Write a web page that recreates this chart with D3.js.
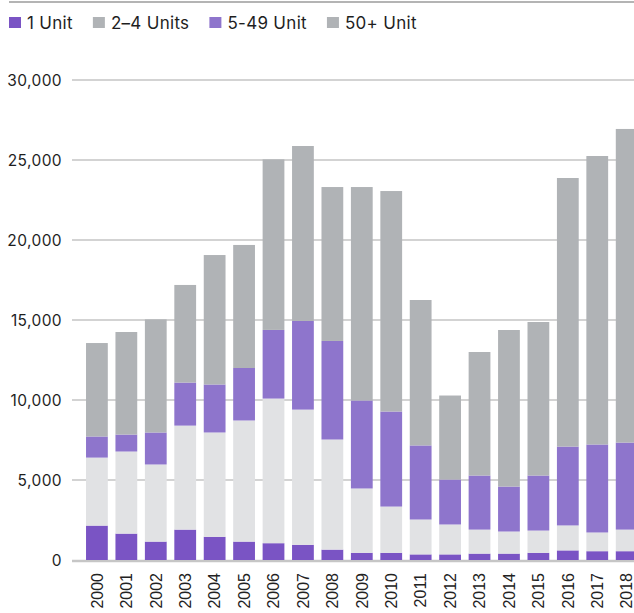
<!DOCTYPE html>
<html>
<head>
<meta charset="utf-8">
<script src="https://cdn.jsdelivr.net/npm/d3@7"></script>
<style>
  body { margin: 0; background: #fff; }
  svg { display: block; }
</style>
</head>
<body>
<div id="chart"></div>
<script>
const years = ["2000","2001","2002","2003","2004","2005","2006","2007","2008","2009",
  "2010","2011","2012","2013","2014","2015","2016","2017","2018"];
const oneUnit      = [2150,1650,1150,1900,1450,1150,1050, 950, 650, 450, 450, 350, 350, 400, 400, 450, 600, 550, 550];
const twoFourUnits = [4250,5130,4820,6500,6520,7570,9040,8450,6880,4020,2890,2180,1870,1500,1380,1390,1560,1170,1350];
const fiveFortyNine= [1320,1060,2000,2690,3000,3280,4290,5540,6160,5500,5940,4630,2810,3380,2810,3440,4930,5500,5440];
const fiftyPlus    = [5840,6410,7070,6100,8090,7690,10660,10935,9620,13340,13780,9090,5250,7720,9785,9595,16785,18030,19600];
const seriesKeys   = ["1 Unit", "2\u20134 Units", "5-49 Unit", "50+ Unit"];
const yTicks       = [0, 5000, 10000, 15000, 20000, 25000, 30000];

const barColors    = ["#7a54c4", "#e1e2e4", "#8e75cc", "#b0b3b6"];
const legendColors = ["#7a54c4", "#b0b3b6", "#8e75cc", "#b0b3b6"];

const W = 634, H = 613;

const rows = years.map((y, i) => ({
  year: y,
  "1 Unit": oneUnit[i],
  "2\u20134 Units": twoFourUnits[i],
  "5-49 Unit": fiveFortyNine[i],
  "50+ Unit": fiftyPlus[i]
}));

const svg = d3.select("#chart")
  .append("svg")
  .attr("width", W)
  .attr("height", H);

// thin rule across the top
svg.append("line")
  .attr("x1", 9).attr("x2", W)
  .attr("y1", 2).attr("y2", 2)
  .attr("stroke", "#b4b4b4")
  .attr("stroke-width", 2);

const x = d3.scaleBand()
  .domain(years)
  .range([82.2, 641.4])
  .paddingInner(0.26)
  .paddingOuter(0.13);

const y = d3.scaleLinear()
  .domain([0, 30000])
  .range([560, 80]);

// gridlines + labels
const grid = svg.append("g");
grid.selectAll("line")
  .data(yTicks)
  .enter()
  .append("line")
  .attr("x1", 72).attr("x2", W)
  .attr("y1", d => d === 0 ? y(d) + 1 : y(d))
  .attr("y2", d => d === 0 ? y(d) + 1 : y(d))
  .attr("stroke", d => d === 0 ? "#c6c6c6" : "#c4c4c4")
  .attr("stroke-width", d => d === 0 ? 2.5 : 1.5);

grid.selectAll("text")
  .data(yTicks)
  .enter()
  .append("text")
  .attr("x", 62)
  .attr("y", d => y(d))
  .attr("dy", "0.36em")
  .attr("text-anchor", "end")
  .attr("font-family", "Inter, 'Noto Sans', sans-serif")
  .attr("font-size", 15.5)
  .attr("letter-spacing", 0.4)
  .attr("fill", "#1e1e1e")
  .text(d => d3.format(",")(d));

// stacked bars
const stack = d3.stack().keys(seriesKeys);
const layers = stack(rows);

svg.append("g")
  .selectAll("g")
  .data(layers)
  .enter()
  .append("g")
  .attr("fill", (d, i) => barColors[i])
  .selectAll("rect")
  .data(d => d)
  .enter()
  .append("rect")
  .attr("x", d => x(d.data.year))
  .attr("width", x.bandwidth())
  .attr("y", d => y(d[1]))
  .attr("height", d => y(d[0]) - y(d[1]));

// year labels, rotated
svg.append("g")
  .selectAll("text")
  .data(years)
  .enter()
  .append("text")
  .attr("transform", d => `translate(${x(d) + x.bandwidth() / 2},573) rotate(-90)`)
  .attr("dy", "0.36em")
  .attr("text-anchor", "end")
  .attr("font-family", "'Liberation Sans', Arial, sans-serif")
  .attr("font-size", 16)
  .attr("fill", "#222")
  .text(d => d);

// legend
const legend = svg.append("g");
let lx = 9;
seriesKeys.forEach((k, i) => {
  legend.append("rect")
    .attr("x", lx).attr("y", 17)
    .attr("width", 12).attr("height", 11)
    .attr("fill", legendColors[i]);
  const t = legend.append("text")
    .attr("x", lx + 18)
    .attr("y", 28.5)
    .attr("font-family", "Inter, 'Noto Sans', sans-serif")
    .attr("font-size", 17)
    .attr("letter-spacing", 0.3)
    .attr("fill", "#1e1e1e")
    .text(k);
  lx += 18 + t.node().getComputedTextLength() + 20;
});
</script>
</body>
</html>
